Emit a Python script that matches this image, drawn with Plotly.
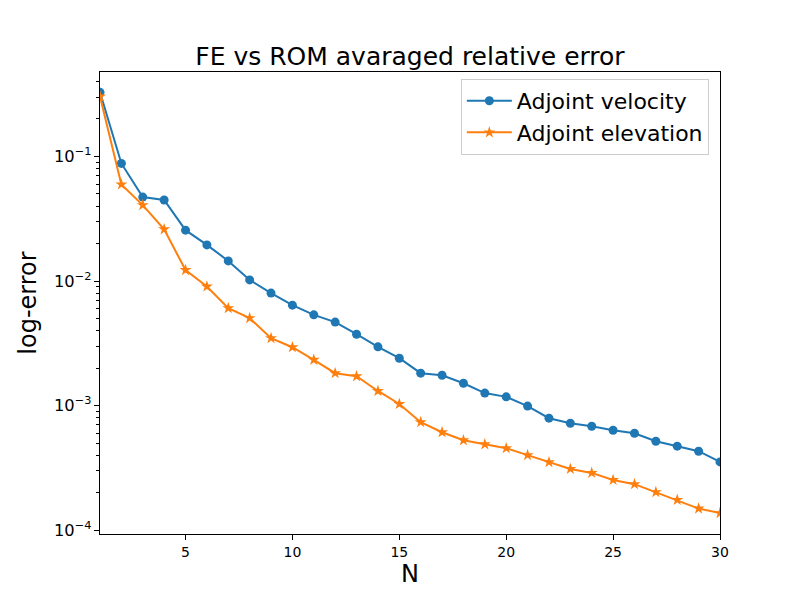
import plotly.graph_objects as go

# reduced basis size N
n_vals = list(range(1, 31))

# averaged relative error
adj_velocity = [0.327, 0.0879, 0.0472, 0.0447, 0.0256, 0.0195, 0.0145, 0.0102, 0.0080, 0.0064,
                0.00535, 0.00468, 0.00374, 0.00296, 0.0024, 0.00182, 0.00175, 0.00151, 0.00126, 0.001175,
                0.00099, 0.000792, 0.000722, 0.000683, 0.000634, 0.0006, 0.000517, 0.000472, 0.00043, 0.000353]
adj_elevation = [0.303, 0.0596, 0.0407, 0.0260, 0.01225, 0.00904, 0.00606, 0.00504, 0.00348, 0.00294,
                 0.00233, 0.00182, 0.00172, 0.00131, 0.00103, 0.000736, 0.000611, 0.000527, 0.000489, 0.000455,
                 0.0004, 0.000351, 0.00031, 0.000288, 0.000253, 0.000234, 0.000202, 0.000175, 0.000149, 0.000137]

fig = go.Figure()
fig.add_trace(go.Scatter(x=n_vals, y=adj_velocity, mode='lines+markers', name='Adjoint velocity',
                         line=dict(color='#1f77b4', width=2),
                         marker=dict(symbol='circle', size=9, color='#1f77b4')))
fig.add_trace(go.Scatter(x=n_vals, y=adj_elevation, mode='lines+markers', name='Adjoint elevation',
                         line=dict(color='#ff7f0e', width=2),
                         marker=dict(symbol='star', size=9, color='#ff7f0e')))

# the page body adds 8px, so the figure is 8px smaller and left/top margins shifted
fig.update_layout(
    width=792, height=592,
    paper_bgcolor='white', plot_bgcolor='white',
    font=dict(family='DejaVu Sans', color='black'),
    margin=dict(l=92, r=80, t=64, b=66),
    title=dict(text='FE vs ROM avaraged relative error', font=dict(size=25),
               x=0.5, xref='paper', xanchor='center', y=1 - 48 / 592, yref='container', yanchor='middle'),
    legend=dict(x=0.982, y=0.985, xanchor='right', yanchor='top', font=dict(size=22),
                itemwidth=45, bgcolor='white', bordercolor='#cccccc', borderwidth=1),
    showlegend=True,
)
fig.update_xaxes(range=[1, 30], tick0=5, dtick=5, ticks='outside', ticklen=5, tickcolor='black',
                 tickfont=dict(size=14), showline=True, linecolor='black', linewidth=1, mirror=True,
                 showgrid=False, zeroline=False,
                 title=dict(text='N', font=dict(size=24), standoff=6))
fig.update_yaxes(type='log', range=[-4.031, -0.322], dtick=1, exponentformat='power',
                 ticks='outside', ticklen=5, tickcolor='black', tickfont=dict(size=13),
                 minor=dict(ticks='outside', ticklen=3, tickcolor='black', showgrid=False),
                 showline=True, linecolor='black', linewidth=1, mirror=True,
                 showgrid=False, zeroline=False,
                 title=dict(text='log-error', font=dict(size=24), standoff=10))

fig.write_html('out.html')
